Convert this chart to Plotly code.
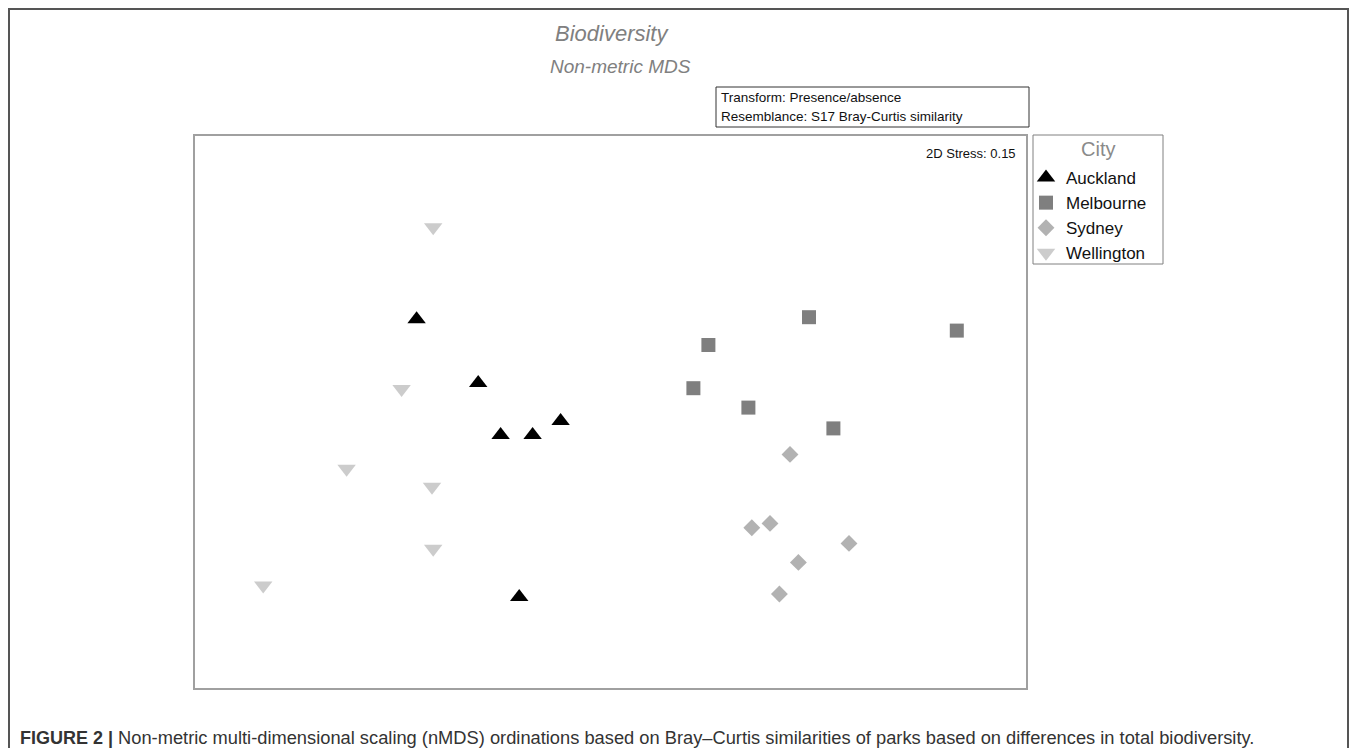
import plotly.graph_objects as go

# nMDS coordinates (arbitrary units)
cities = ["Auckland", "Melbourne", "Sydney", "Wellington"]
auckland_x = [-0.967, -0.659, -0.547, -0.387, -0.247, -0.454]
auckland_y = [0.464, 0.145, -0.115, -0.115, -0.045, -0.925]
melbourne_x = [0.995, 0.492, 1.734, 0.417, 0.692, 1.117]
melbourne_y = [0.474, 0.335, 0.407, 0.119, 0.022, -0.082]
sydney_x = [0.900, 0.709, 0.800, 1.195, 0.942, 0.847]
sydney_y = [-0.212, -0.579, -0.557, -0.657, -0.752, -0.910]
wellington_x = [-0.884, -1.042, -1.317, -0.890, -0.884, -1.734]
wellington_y = [0.924, 0.115, -0.284, -0.374, -0.684, -0.867]

stress = 0.15

series = [
    ("Auckland", auckland_x, auckland_y, "triangle-up", "#000000", 16),
    ("Melbourne", melbourne_x, melbourne_y, "square", "#7f7f7f", 14),
    ("Sydney", sydney_x, sydney_y, "diamond", "#b2b2b2", 13),
    ("Wellington", wellington_x, wellington_y, "triangle-down", "#cccccc", 16),
]

OFF = 8  # page body margin of the browser
W, H = 1357 - 2 * OFF, 756 - 2 * OFF
def px(x):
    return (x - OFF) / W
def py(y):
    return 1 - (y - OFF) / H

fig = go.Figure()
for name, xs, ys, sym, col, sz in series:
    fig.add_trace(go.Scatter(
        x=xs, y=ys, mode="markers", name=name,
        marker=dict(symbol=sym, color=col, size=sz, line=dict(width=0)),
    ))

font_family = "Liberation Sans, Arial, sans-serif"

fig.update_layout(
    width=W, height=H,
    margin=dict(l=0, r=0, t=0, b=0),
    paper_bgcolor="white", plot_bgcolor="white",
    font=dict(family=font_family, color="#111111"),
    xaxis=dict(domain=[px(195), px(1026)], range=[-2.075, 2.08],
               showgrid=False, zeroline=False, showticklabels=False, ticks="",
               showline=True, mirror=True, linecolor="#a0a0a0", linewidth=1.5),
    yaxis=dict(domain=[py(688), py(136)], range=[-1.38, 1.38],
               showgrid=False, zeroline=False, showticklabels=False, ticks="",
               showline=True, mirror=True, linecolor="#a0a0a0", linewidth=1.5),
    showlegend=True,
    legend=dict(
        x=px(1026), y=py(160), xanchor="left", yanchor="top",
        borderwidth=0, bgcolor="rgba(0,0,0,0)",
        font=dict(size=17, color="#111111", family=font_family),
        tracegroupgap=0, itemwidth=30,
    ),
)

# legend frame and title
fig.add_shape(type="rect", xref="paper", yref="paper",
              x0=px(1033), x1=px(1163), y0=py(264), y1=py(135),
              line=dict(color="#808080", width=1))
fig.add_annotation(text="City", xref="paper", yref="paper",
                   x=px(1098), y=py(149), xanchor="center", yanchor="middle",
                   showarrow=False,
                   font=dict(size=20, color="#8a8a8a", family=font_family))

# outer frame of the figure
fig.add_shape(type="rect", xref="paper", yref="paper",
              x0=px(9), x1=px(1348), y0=-0.05, y1=py(9),
              line=dict(color="#555555", width=2), layer="below")

# Titles
fig.add_annotation(text="<i>Biodiversity</i>", xref="paper", yref="paper",
                   x=px(612), y=py(34), xanchor="center", yanchor="middle",
                   showarrow=False,
                   font=dict(size=22, color="#808080", family=font_family))
fig.add_annotation(text="<i>Non-metric MDS</i>", xref="paper", yref="paper",
                   x=px(620), y=py(67), xanchor="center", yanchor="middle",
                   showarrow=False,
                   font=dict(size=19, color="#808080", family=font_family))

# Transform / resemblance box
fig.add_shape(type="rect", xref="paper", yref="paper",
              x0=px(716), x1=px(1029), y0=py(127), y1=py(87),
              line=dict(color="#333333", width=1))
fig.add_annotation(text="Transform: Presence/absence", xref="paper", yref="paper",
                   x=px(719), y=py(97), xanchor="left", yanchor="middle",
                   showarrow=False,
                   font=dict(size=13.5, color="#111111", family=font_family))
fig.add_annotation(text="Resemblance: S17 Bray-Curtis similarity", xref="paper", yref="paper",
                   x=px(719), y=py(117), xanchor="left", yanchor="middle",
                   showarrow=False,
                   font=dict(size=13.5, color="#111111", family=font_family))

# Stress
fig.add_annotation(text=f"2D Stress: {stress:.2f}", xref="paper", yref="paper",
                   x=px(1018), y=py(153), xanchor="right", yanchor="middle",
                   showarrow=False,
                   font=dict(size=13, color="#111111", family=font_family))

# Caption
fig.add_annotation(
    text="<b>FIGURE 2 |</b> <span style='font-size:18.3px'>Non-metric multi-dimensional scaling (nMDS) ordinations based on Bray–Curtis similarities of parks based on differences in total biodiversity.</span>",
    xref="paper", yref="paper", x=px(18), y=py(737), xanchor="left", yanchor="middle",
    showarrow=False,
    font=dict(size=18, color="#333333", family=font_family))

fig.write_html("out.html")
